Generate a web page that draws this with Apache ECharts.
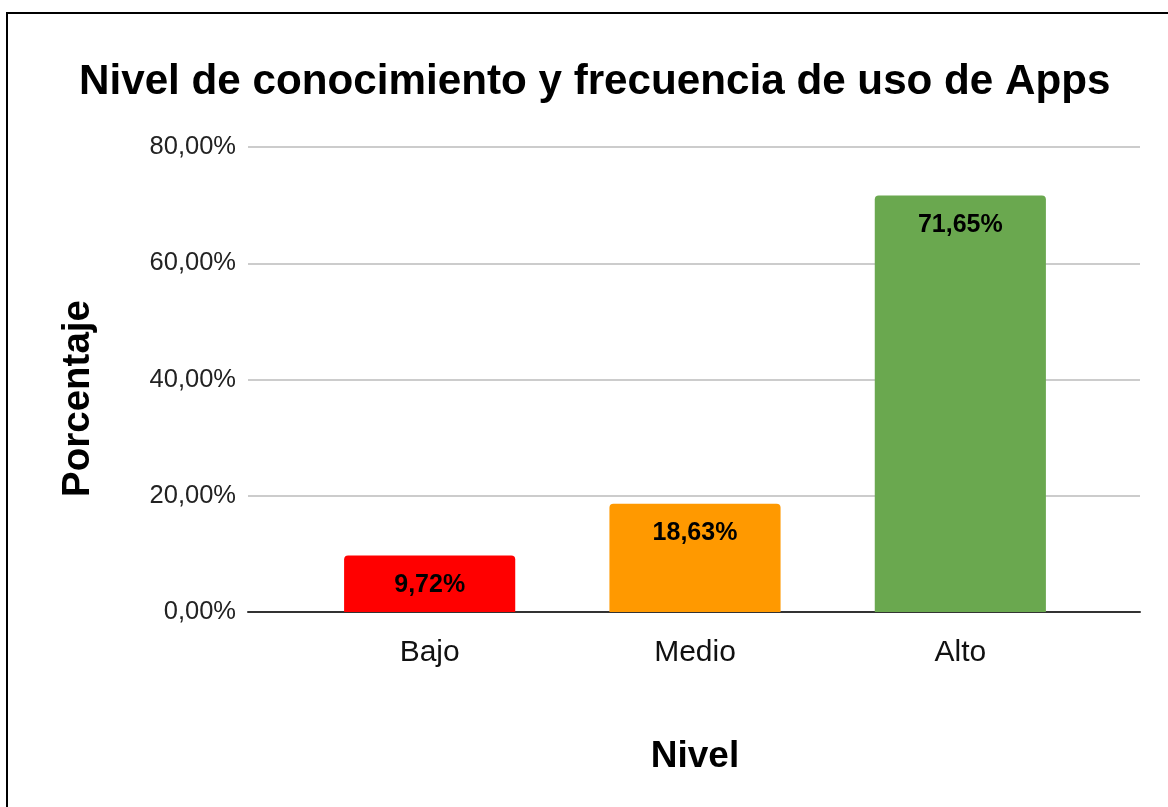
<!DOCTYPE html>
<html>
<head>
<meta charset="utf-8">
<script src="https://cdn.jsdelivr.net/npm/echarts@6/dist/echarts.min.js"></script>
<style>
html,body{margin:0;padding:0;background:#fff;}
#c{width:1168px;height:807px;}
</style>
</head>
<body>
<div id="c"></div>
<script>
const titleText = 'Nivel de conocimiento y frecuencia de uso de Apps';
const categories = ['Bajo', 'Medio', 'Alto'];
const values = [9.72, 18.63, 71.65];
const barColors = ['#ff0000', '#ff9900', '#6aa84f'];
const yTicks = [0, 20, 40, 60, 80];
const yName = 'Porcentaje';
const xName = 'Nivel';

const fmt = v => v.toFixed(2).replace('.', ',') + '%';
const FONT = '"Liberation Sans", Arial, sans-serif';

const chart = echarts.init(document.getElementById('c'), null, {renderer: 'canvas'});
chart.setOption({
  backgroundColor: '#ffffff',
  animation: false,
  title: {
    text: titleText,
    left: 74,
    top: 56,
    textStyle: {fontFamily: FONT, fontSize: 42.2, fontWeight: 'bold', color: '#000'}
  },
  graphic: [{
    type: 'rect',
    shape: {x: 7, y: 13, width: 1300, height: 1000},
    style: {fill: null, stroke: '#000', lineWidth: 2},
    silent: true
  }],
  grid: [
    {left: 248, right: 28, top: 147, bottom: 195},
    {left: 297, right: 75, top: 147, bottom: 195}
  ],
  xAxis: [
    {
      gridIndex: 0, type: 'category', data: [],
      axisLine: {show: true, lineStyle: {color: '#333333', width: 2}},
      axisTick: {show: false}, axisLabel: {show: false}, splitLine: {show: false}
    },
    {
      gridIndex: 1, type: 'category', data: categories,
      axisLine: {show: false}, axisTick: {show: false},
      axisLabel: {margin: 26, fontFamily: FONT, fontSize: 30, color: '#111'},
      name: xName, nameLocation: 'middle', nameGap: 126,
      nameTextStyle: {fontFamily: FONT, fontSize: 37, fontWeight: 'bold', color: '#000'}
    }
  ],
  yAxis: [
    {
      gridIndex: 0, type: 'value', min: yTicks[0], max: yTicks[yTicks.length - 1], interval: 20,
      axisLine: {show: false}, axisTick: {show: false},
      axisLabel: {margin: 12, fontFamily: FONT, fontSize: 25.5, color: '#222', formatter: fmt, padding: [2, 0, 0, 0]},
      splitLine: {show: true, lineStyle: {color: '#cccccc', width: 2}},
      name: yName, nameLocation: 'middle', nameGap: 150,
      nameTextStyle: {fontFamily: FONT, fontSize: 38.5, fontWeight: 'bold', color: '#000', padding: [0, 38, 0, 0]}
    },
    {
      gridIndex: 1, type: 'value', min: yTicks[0], max: yTicks[yTicks.length - 1], interval: 20,
      axisLine: {show: false}, axisTick: {show: false}, axisLabel: {show: false}, splitLine: {show: false}
    }
  ],
  series: [{
    type: 'bar',
    xAxisIndex: 1, yAxisIndex: 1,
    barWidth: '64.5%',
    data: values.map((v, i) => ({value: v, itemStyle: {color: barColors[i], borderRadius: [4, 4, 0, 0]}})),
    label: {
      show: true, position: 'insideTop', distance: 17,
      fontFamily: FONT, fontSize: 25, fontWeight: 'bold', color: '#000',
      formatter: p => fmt(p.value)
    },
    z: 3
  }]
});
</script>
</body>
</html>
